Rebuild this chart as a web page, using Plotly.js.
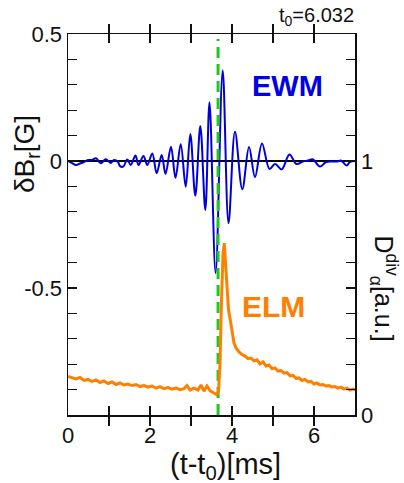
<!DOCTYPE html>
<html>
<head>
<meta charset="utf-8">
<script src="https://cdn.plot.ly/plotly-3.0.1.min.js"></script>
<style>
html,body{margin:0;padding:0;background:#fff;}
#chart{width:404px;height:483px;}
</style>
</head>
<body>
<div id="chart"></div>
<script>
// EWM magnetic fluctuation dBr [G] vs (t - t0) [ms]
const ewmT = [0, 0.098, 0.195, 0.293, 0.390, 0.488, 0.585, 0.683, 0.798, 0.920, 1.041, 1.122, 1.220, 1.268, 1.349, 1.446, 1.529, 1.646, 1.720, 1.841, 1.934, 2.056, 2.163, 2.285, 2.378, 2.512, 2.622, 2.749, 2.871, 2.983, 3.105, 3.227, 3.349, 3.451, 3.600, 3.773, 3.915, 4.073, 4.251, 4.415, 4.561, 4.732, 4.915, 5.049, 5.212, 5.402, 5.573, 5.732, 5.854, 5.968, 6.146, 6.293, 6.439, 6.561, 6.659, 6.798, 6.878, 7.0];
const ewmB = [0, -0.008, -0.016, -0.010, -0.004, 0.004, 0.004, 0.011, -0.009, 0.007, -0.008, 0.004, -0.004, -0.020, -0.022, 0.006, -0.016, 0.022, -0.016, 0.020, -0.016, 0.030, -0.048, 0.024, -0.051, 0.056, -0.066, 0.066, -0.101, 0.106, -0.137, 0.138, -0.193, 0.231, -0.441, 0.356, -0.245, 0.115, -0.111, 0.055, -0.063, 0.069, -0.031, -0.012, -0.033, 0.026, -0.012, -0.002, 0.002, 0.007, -0.022, -0.004, -0.002, -0.002, 0.002, -0.018, -0.003, 0];

// Divertor D-alpha [a.u.]
const elmT = [0, 0.098, 0.195, 0.293, 0.390, 0.488, 0.585, 0.683, 0.780, 0.878, 0.976, 1.073, 1.171, 1.268, 1.366, 1.463, 1.561, 1.659, 1.756, 1.854, 1.951, 2.049, 2.146, 2.244, 2.341, 2.439, 2.537, 2.634, 2.732, 2.829, 2.902, 2.976, 3.073, 3.171, 3.244, 3.317, 3.390, 3.463, 3.537, 3.610, 3.671, 3.707, 3.744, 3.780, 3.812, 3.841, 3.866, 3.890, 3.915, 3.951, 4.000, 4.049, 4.098, 4.171, 4.244, 4.317, 4.390, 4.463, 4.537, 4.610, 4.683, 4.756, 4.829, 4.902, 4.976, 5.049, 5.122, 5.195, 5.268, 5.341, 5.415, 5.488, 5.561, 5.634, 5.707, 5.780, 5.854, 5.927, 6.000, 6.073, 6.146, 6.220, 6.293, 6.366, 6.439, 6.512, 6.585, 6.659, 6.732, 6.805, 6.878, 6.951, 7.0];
const elmD = [0.152, 0.146, 0.142, 0.148, 0.136, 0.140, 0.132, 0.138, 0.128, 0.134, 0.124, 0.130, 0.120, 0.126, 0.118, 0.122, 0.116, 0.120, 0.112, 0.116, 0.110, 0.114, 0.106, 0.112, 0.104, 0.108, 0.102, 0.106, 0.100, 0.104, 0.116, 0.098, 0.106, 0.098, 0.118, 0.094, 0.114, 0.096, 0.087, 0.081, 0.091, 0.197, 0.453, 0.630, 0.677, 0.602, 0.512, 0.492, 0.413, 0.382, 0.335, 0.283, 0.264, 0.248, 0.238, 0.232, 0.222, 0.224, 0.213, 0.217, 0.201, 0.209, 0.193, 0.197, 0.183, 0.185, 0.173, 0.175, 0.165, 0.167, 0.154, 0.156, 0.144, 0.146, 0.136, 0.140, 0.130, 0.132, 0.122, 0.126, 0.118, 0.120, 0.114, 0.116, 0.110, 0.112, 0.106, 0.110, 0.102, 0.106, 0.098, 0.102, 0.100];

const elmOnset = 3.66;
const dashY = [-1, 0.48];

// tick positions and labels
const xTickVals = [0, 1, 2, 3, 4, 5, 6, 7];
const xTickText = ['0', '', '2', '', '4', '', '6', ''];
const yTickVals = [-0.9, -0.8, -0.7, -0.6, -0.5, -0.4, -0.3, -0.2, -0.1, 0, 0.1, 0.2, 0.3, 0.4, 0.5];
const yTickText = ['', '', '', '', '-0.5', '', '', '', '', '0', '', '', '', '', '0.5'];
const y2TickVals = [0, 0.1, 0.2, 0.3, 0.4, 0.5, 0.6, 0.7, 0.8, 0.9, 1, 1.1, 1.2, 1.3, 1.4];
const y2TickText = ['0', '', '', '', '', '', '', '', '', '', '1', '', '', '', ''];

const FONT = '"Liberation Sans", Arial, Helvetica, sans-serif';
const BLUE = 'rgb(0,0,220)';
const ORANGE = 'rgb(255,128,0)';
const GREEN = 'rgb(30,200,30)';

const traces = [
  {x: elmT, y: elmD, yaxis: 'y2', mode: 'lines', line: {color: ORANGE, width: 3}, hoverinfo: 'skip'},
  {x: ewmT, y: ewmB, mode: 'lines', line: {color: BLUE, width: 2, shape: 'spline', smoothing: 1}, hoverinfo: 'skip'},
  {x: [elmOnset, elmOnset], y: dashY, mode: 'lines', line: {color: GREEN, width: 3, dash: '11px,6px'}, hoverinfo: 'skip'}
];

const axCommon = {
  showgrid: false, showline: true, linecolor: '#111', linewidth: 1.5,
  ticks: 'inside', ticklen: 9, tickwidth: 1.3, tickcolor: '#111',
  tickfont: {family: FONT, size: 22, color: '#111'}, zeroline: false, fixedrange: true
};

const layout = {
  width: 404, height: 483,
  margin: {l: 68, r: 49, t: 34, b: 68, pad: 0},
  paper_bgcolor: '#fff', plot_bgcolor: '#fff',
  showlegend: false,
  font: {family: FONT, color: '#111'},
  xaxis: Object.assign({}, axCommon, {
    range: [0, 7], tickmode: 'array', tickvals: xTickVals, ticktext: xTickText, mirror: 'allticks'
  }),
  yaxis: Object.assign({}, axCommon, {
    range: [-1, 0.5], tickmode: 'array', tickvals: yTickVals, ticktext: yTickText, mirror: true,
    zeroline: true, zerolinecolor: '#000', zerolinewidth: 2.5
  }),
  yaxis2: Object.assign({}, axCommon, {
    range: [0, 1.5], overlaying: 'y', side: 'right', tickmode: 'array', tickvals: y2TickVals, ticktext: y2TickText
  }),
  annotations: [
    {text: 't<sub>0</sub>=6.032', xref: 'paper', yref: 'paper', x: 1.003, y: 1.045, xanchor: 'right', yanchor: 'middle', showarrow: false, font: {family: FONT, size: 20, color: '#111'}},
    {text: 'δB<sub>r</sub>[G]', xref: 'paper', yref: 'paper', x: -0.146, y: 0.685, xanchor: 'center', yanchor: 'middle', textangle: -90, showarrow: false, font: {family: FONT, size: 28, color: '#111'}},
    {text: 'D<sup>div</sup><sub>α</sub>[a.u.]', xref: 'paper', yref: 'paper', x: 1.1, y: 0.333, xanchor: 'center', yanchor: 'middle', textangle: 90, showarrow: false, font: {family: FONT, size: 25, color: '#111'}},
    {text: '(t-t<sub>0</sub>)[ms]', xref: 'paper', yref: 'paper', x: 0.55, y: -0.134, xanchor: 'center', yanchor: 'middle', showarrow: false, font: {family: FONT, size: 29, color: '#111'}},
    {text: '<b>EWM</b>', xref: 'paper', yref: 'paper', x: 0.765, y: 0.864, xanchor: 'center', yanchor: 'middle', showarrow: false, font: {family: FONT, size: 29, color: 'rgb(0,0,230)'}},
    {text: '<b>ELM</b>', xref: 'paper', yref: 'paper', x: 0.716, y: 0.286, xanchor: 'center', yanchor: 'middle', showarrow: false, font: {family: FONT, size: 30, color: ORANGE}}
  ]
};

Plotly.newPlot('chart', traces, layout, {displayModeBar: false, staticPlot: true});
</script>
</body>
</html>
